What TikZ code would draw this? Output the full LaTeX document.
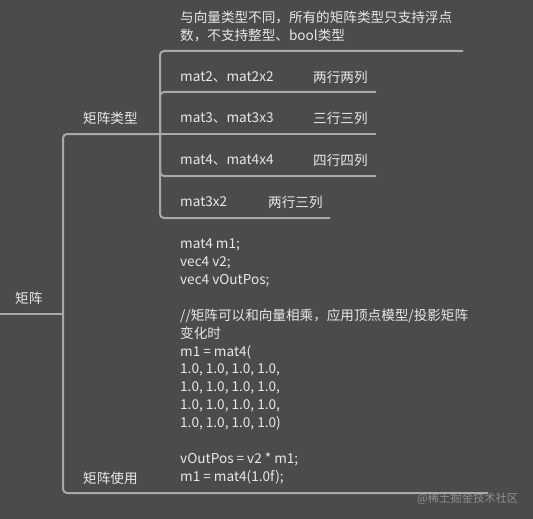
\documentclass[tikz,border=0pt]{standalone}
\usepackage{fontspec}
\setmainfont{Noto Sans CJK SC}
\definecolor{bg}{HTML}{4B4C4A}
\definecolor{ln}{HTML}{A9A9A7}
\definecolor{tx}{HTML}{E8E8E8}
\definecolor{wm}{HTML}{8E8F8D}
\begin{document}
\begin{tikzpicture}[x=1pt,y=-1pt,
  txt/.style={text=tx, font=\fontsize{13.6}{17.9}\selectfont, inner sep=0pt, anchor=west, align=left},
  conn/.style={draw=ln, line width=2pt, rounded corners=4pt}]
\fill[bg] (0,0) rectangle (533,519);
\useasboundingbox (0,0) rectangle (533,519);

% texts
\node[txt] (root) at (15,298) {矩阵};
\node[txt] (types) at (83,118) {矩阵类型};
\node[txt] (usage) at (83,478) {矩阵使用};
\node[txt] (note) at (180,26.5) {与向量类型不同，所有的矩阵类型只支持浮点\\数，不支持整型、bool类型};
\node[txt] (m2) at (180,77) {mat2、mat2x2};
\node[txt] (m2d) at (313,77) {两行两列};
\node[txt] (m3) at (180,118) {mat3、mat3x3};
\node[txt] (m3d) at (313,118) {三行三列};
\node[txt] (m4) at (180,160) {mat4、mat4x4};
\node[txt] (m4d) at (313,160) {四行四列};
\node[txt] (m32) at (180,202) {mat3x2};
\node[txt] (m32d) at (268,202) {两行三列};
\node[txt] (code) at (180,361.5) {mat4 m1;\\vec4 v2;\\vec4 vOutPos;\\\mbox{}\\//矩阵可以和向量相乘，应用顶点模型/投影矩阵\\变化时\\m1 = mat4(\\1.0, 1.0, 1.0, 1.0,\\1.0, 1.0, 1.0, 1.0,\\1.0, 1.0, 1.0, 1.0,\\1.0, 1.0, 1.0, 1.0)\\\mbox{}\\vOutPos = v2 * m1;\\m1 = mat4(1.0f);};
\node[anchor=west, inner sep=0pt, text=wm, font=\fontsize{11.3}{13}\selectfont] (mark) at (417,499) {@稀土掘金技术社区};

% connector points
\coordinate (rootL) at (0,314);
\coordinate (hub) at (63,314);
\coordinate (typesL) at (63,134);
\coordinate (typesR) at (160,134);
\coordinate (usageL) at (63,493);
\coordinate (usageR) at (488,493);
\coordinate (noteL) at (160,51);  \coordinate (noteR) at (463,51);
\coordinate (m2L) at (160,92);    \coordinate (m2R) at (376,92);
\coordinate (m3R) at (376,134);
\coordinate (m4L) at (160,176);   \coordinate (m4R) at (376,176);
\coordinate (m32L) at (160,218);  \coordinate (m32R) at (330,218);

% connectors
\draw[conn] (rootL) -- (hub);
\draw[conn] (hub) -- (typesL) -- (typesR);
\draw[conn] (hub) -- (usageL) -- (usageR);
\draw[conn] (typesR) -- (noteL) -- (noteR);
\draw[conn] (typesR) -- (m2L) -- (m2R);
\draw[conn] (typesR) -- (m3R);
\draw[conn] (typesR) -- (m4L) -- (m4R);
\draw[conn] (typesR) -- (m32L) -- (m32R);
\end{tikzpicture}
\end{document}
